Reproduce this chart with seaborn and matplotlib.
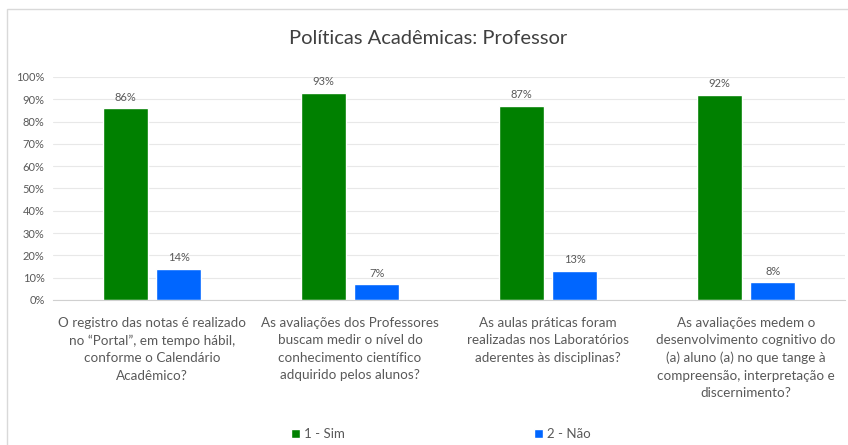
import pandas as pd
import matplotlib.pyplot as plt
import seaborn as sns
from matplotlib.patches import Rectangle
from matplotlib.ticker import PercentFormatter

# Data
perguntas = [
    "O registro das notas é realizado\nno “Portal”, em tempo hábil,\nconforme o Calendário\nAcadêmico?",
    "As avaliações dos Professores\nbuscam medir o nível do\nconhecimento científico\nadquirido pelos alunos?",
    "As aulas práticas foram\nrealizadas nos Laboratórios\naderentes às disciplinas?",
    "As avaliações medem o\ndesenvolvimento cognitivo do\n(a) aluno (a) no que tange à\ncompreensão, interpretação e\ndiscernimento?",
]
sim = [0.86, 0.93, 0.87, 0.92]
nao = [0.14, 0.07, 0.13, 0.08]
series = ["1 - Sim", "2 - Não"]

df = pd.DataFrame({
    "pergunta": perguntas * 2,
    "valor": sim + nao,
    "serie": [series[0]] * 4 + [series[1]] * 4,
})

sns.set_style("white")
plt.rcParams['font.family'] = ['Lato', 'DejaVu Sans']
gray = "#595959"

fig = plt.figure(figsize=(8.48, 4.45), dpi=100)
ax = fig.add_axes([0.0625, 0.326, 0.934, 0.501])

sns.barplot(data=df, x="pergunta", y="valor", hue="serie",
            palette=["#008000", "#0066ff"], width=0.54, gap=0.15,
            saturation=1, ax=ax, errorbar=None)

for cont in ax.containers:
    ax.bar_label(cont, labels=[f"{v * 100:.0f}%" for v in cont.datavalues],
                 padding=4, fontsize=8, color=gray)

ax.set_ylim(0, 1)
ax.set_yticks([i / 10 for i in range(11)])
ax.yaxis.set_major_formatter(PercentFormatter(1.0, decimals=0))
ax.grid(axis="y", color="#e8e8e8", linewidth=0.8)
ax.set_axisbelow(True)
for s in ["top", "right", "left"]:
    ax.spines[s].set_visible(False)
ax.spines["bottom"].set_color("#d0d0d0")
ax.tick_params(axis="y", labelsize=8, colors=gray, length=0, pad=6)
ax.tick_params(axis="x", labelsize=9.7, colors=gray, length=0, pad=12)
for lbl in ax.get_xticklabels():
    lbl.set_linespacing(1.55)
ax.set_xlabel("")
ax.set_ylabel("")

fig.text(0.505, 1 - 38 / 445, "Políticas Acadêmicas: Professor", fontsize=14.5,
         color="#404040", ha="center", va="center")

ax.legend(loc="center", bbox_to_anchor=(0.52, 1 - 434 / 445), bbox_transform=fig.transFigure,
          ncol=2, frameon=False, fontsize=9.5, labelcolor=gray,
          handlelength=0.7, handleheight=0.7, handletextpad=0.3, columnspacing=14.3)

# chart border
fig.add_artist(Rectangle((7 / 848, -0.05), 1.1, 1 - 9 / 445 + 0.05,
                         transform=fig.transFigure, fill=False,
                         edgecolor="#d9d9d9", linewidth=1))

fig.savefig("out.png", dpi=100)
